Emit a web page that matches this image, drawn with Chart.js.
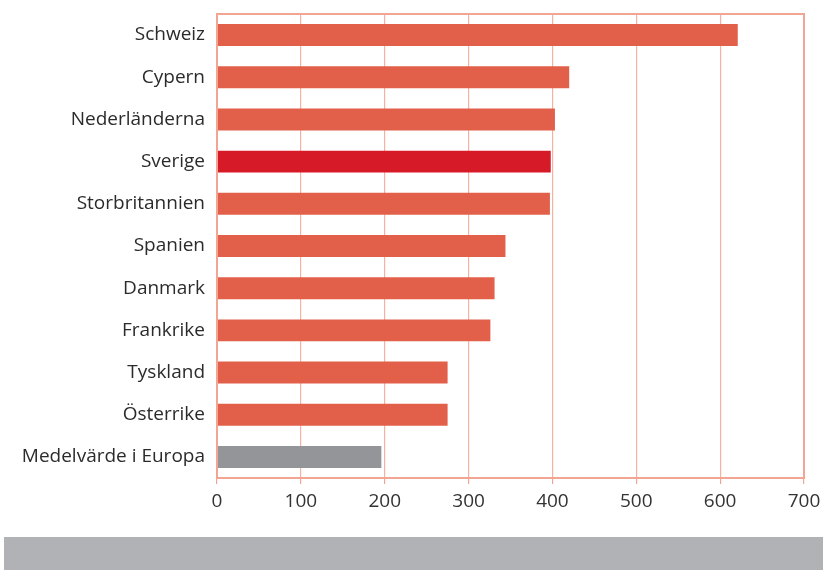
<!DOCTYPE html>
<html lang="sv">
<head>
<meta charset="utf-8">
<script src="https://cdn.jsdelivr.net/npm/chart.js@4"></script>
<style>
  html, body { margin: 0; padding: 0; background: #ffffff; }
  #wrap { position: relative; width: 823px; height: 570px; }
  #chartBox { position: absolute; left: 0; top: 0; width: 823px; height: 520px; }
  #footerBand { position: absolute; left: 4px; top: 537px; width: 819px; height: 33px; background: #b1b2b5; }
</style>
</head>
<body>
<div id="wrap">
  <div id="chartBox"><canvas id="chart"></canvas></div>
  <div id="footerBand"></div>
</div>
<script>
// Länder och värden
const countries = ['Schweiz', 'Cypern', 'Nederländerna', 'Sverige', 'Storbritannien', 'Spanien',
  'Danmark', 'Frankrike', 'Tyskland', 'Österrike', 'Medelvärde i Europa'];
const values = [621, 420, 403, 398, 397, 344, 331, 326, 275, 275, 196];
const xTicks = [0, 100, 200, 300, 400, 500, 600, 700];

const barColor = '#e2604a';
const swedenColor = '#d71a28';
const averageColor = '#939598';
const frameColor = '#f1a592';
const gridColor = '#f3b3a3';

const barColors = countries.map(c => {
  if (c === 'Sverige') return swedenColor;
  if (c === 'Medelvärde i Europa') return averageColor;
  return barColor;
});

// Ram runt hela diagramytan
const framePlugin = {
  id: 'frame',
  afterDraw(chart) {
    const { ctx, chartArea: a } = chart;
    ctx.save();
    ctx.strokeStyle = frameColor;
    ctx.lineWidth = 2;
    ctx.strokeRect(a.left, a.top, a.right - a.left, a.bottom - a.top);
    ctx.restore();
  }
};

const font = "'Open Sans', 'Noto Sans', sans-serif";

new Chart(document.getElementById('chart'), {
  type: 'bar',
  data: {
    labels: countries,
    datasets: [{
      data: values,
      backgroundColor: barColors,
      borderWidth: 0,
      categoryPercentage: 1,
      barPercentage: 0.52
    }]
  },
  options: {
    indexAxis: 'y',
    responsive: true,
    maintainAspectRatio: false,
    animation: false,
    layout: { padding: { top: 14, right: 19, left: 0, bottom: 0 } },
    plugins: {
      legend: { display: false },
      tooltip: { enabled: false }
    },
    scales: {
      x: {
        min: 0,
        max: 700,
        afterBuildTicks: scale => { scale.ticks = xTicks.map(v => ({ value: v })); },
        afterFit: scale => {
          scale.height = 42;
          scale.paddingLeft = 0;
          scale.paddingRight = 0;
        },
        grid: { color: gridColor, lineWidth: 1.2, tickColor: frameColor, tickLength: 6 },
        border: { color: frameColor, width: 2 },
        ticks: { color: '#333333', font: { family: font, size: 19 }, padding: 6 }
      },
      y: {
        afterFit: scale => {
          scale.width = 217;
          scale.paddingTop = 0;
          scale.paddingBottom = 0;
        },
        grid: { display: false },
        border: { color: frameColor, width: 2 },
        ticks: { color: '#2b2b2b', font: { family: font, size: 19 }, padding: 4 }
      }
    }
  },
  plugins: [framePlugin]
});
</script>
</body>
</html>
